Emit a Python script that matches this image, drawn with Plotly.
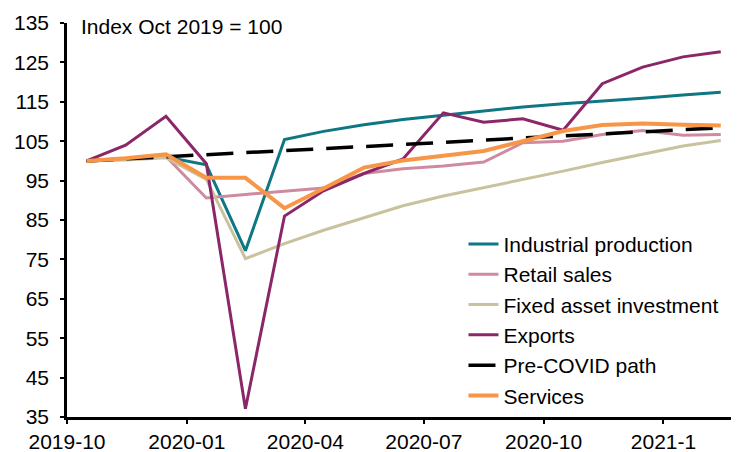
import plotly.graph_objects as go

FONT = "Liberation Sans, Arial, sans-serif"

months = [
    "2019-10-16", "2019-11-15", "2019-12-16", "2020-01-16", "2020-02-15",
    "2020-03-16", "2020-04-15", "2020-05-16", "2020-06-15", "2020-07-16",
    "2020-08-16", "2020-09-15", "2020-10-16", "2020-11-15", "2020-12-16",
    "2021-01-16", "2021-02-14",
]
industrial = [100, 100.4, 101.0, 99.0, 77.2, 105.4, 107.5, 109.2, 110.5,
              111.6, 112.6, 113.7, 114.5, 115.1, 115.9, 116.7, 117.4]
retail = [100, 100.4, 101.1, 90.6, 91.5, 92.3, 93.1, 96.8, 98.0,
          98.7, 99.7, 104.6, 105.0, 106.7, 107.7, 106.5, 106.7]
fixed_asset = [100, 100.2, 100.8, 95.3, 75.2, 79.0, 82.4, 85.6, 88.6,
               91.1, 93.2, 95.3, 97.4, 99.6, 101.7, 103.8, 105.2]
exports = [100, 104.0, 111.3, 99.3, 37.1, 86.0, 92.4, 96.8, 100.5,
           112.2, 109.8, 110.7, 107.8, 119.6, 123.8, 126.4, 127.7]
pre_covid = [100, 100.5, 101.0, 101.6, 102.1, 102.6, 103.2, 103.7, 104.2,
             104.7, 105.3, 105.8, 106.3, 106.9, 107.4, 107.9, 108.4]
services = [100, 100.7, 101.7, 95.7, 95.7, 88.0, 93.0, 98.3, 100.1,
            101.4, 102.5, 105.0, 107.6, 109.1, 109.5, 109.2, 109.0]

tick_dates = ["2019-10-01", "2020-01-01", "2020-04-01", "2020-07-01", "2020-10-01", "2021-01-01"]
tick_labels = ["2019-10", "2020-01", "2020-04", "2020-07", "2020-10", "2021-1"]
y_ticks = [35, 45, 55, 65, 75, 85, 95, 105, 115, 125, 135]

series = [
    ("Industrial production", industrial, "#0F7684", 3, "solid"),
    ("Retail sales", retail, "#D08A9F", 3, "solid"),
    ("Fixed asset investment", fixed_asset, "#C9C29E", 3, "solid"),
    ("Exports", exports, "#8A2769", 3, "solid"),
    ("Pre-COVID path", pre_covid, "#000000", 3.5, "27px,13px"),
    ("Services", services, "#F79646", 4, "solid"),
]

fig = go.Figure()
for name, vals, color, width, dash in series:
    fig.add_trace(go.Scatter(
        x=months, y=vals, name=name, mode="lines",
        line=dict(color=color, width=width, dash=dash),
    ))

# page body has an 8px margin, so the figure is drawn 8px smaller
x_range = ["2019-10-01", "2021-02-28"]
fig.update_layout(
    width=731, height=444,
    margin=dict(l=59, r=0, t=15, b=35),
    paper_bgcolor="white", plot_bgcolor="white",
    font=dict(family=FONT, size=21, color="black"),
    showlegend=True,
    legend=dict(
        x=0.590, y=0.003, xanchor="left", yanchor="bottom",
        bgcolor="rgba(0,0,0,0)", font=dict(size=21),
        tracegroupgap=0,
    ),
    xaxis=dict(
        type="date", range=x_range, automargin=False,
        tickvals=tick_dates, ticktext=tick_labels,
        showgrid=False, zeroline=False,
        showline=True, linecolor="black", linewidth=2.5,
        ticks="outside", ticklen=4, tickwidth=2, tickcolor="black",
        ticklabelstandoff=0,
    ),
    yaxis=dict(
        range=[35, 135], tickvals=y_ticks, automargin=False,
        showgrid=False, zeroline=False,
        showline=True, linecolor="black", linewidth=2.5,
        ticks="outside", ticklen=4, tickwidth=2, tickcolor="black",
        ticklabelstandoff=7,
    ),
    xaxis2=dict(
        type="date", range=x_range, overlaying="x", automargin=False,
        tickvals=tick_dates, showticklabels=False, showgrid=False,
        zeroline=False, showline=False,
        ticks="inside", ticklen=6, tickwidth=2, tickcolor="black",
    ),
    yaxis2=dict(
        range=[35, 135], overlaying="y", tickvals=y_ticks, automargin=False,
        showticklabels=False, showgrid=False, zeroline=False, showline=False,
        ticks="inside", ticklen=3, tickwidth=2, tickcolor="black",
    ),
    annotations=[dict(
        text="Index Oct 2019 = 100", xref="paper", yref="paper",
        x=0.018, y=0.992, xanchor="left", yanchor="middle",
        showarrow=False, font=dict(size=21),
    )],
)

fig.write_html("out.html")
